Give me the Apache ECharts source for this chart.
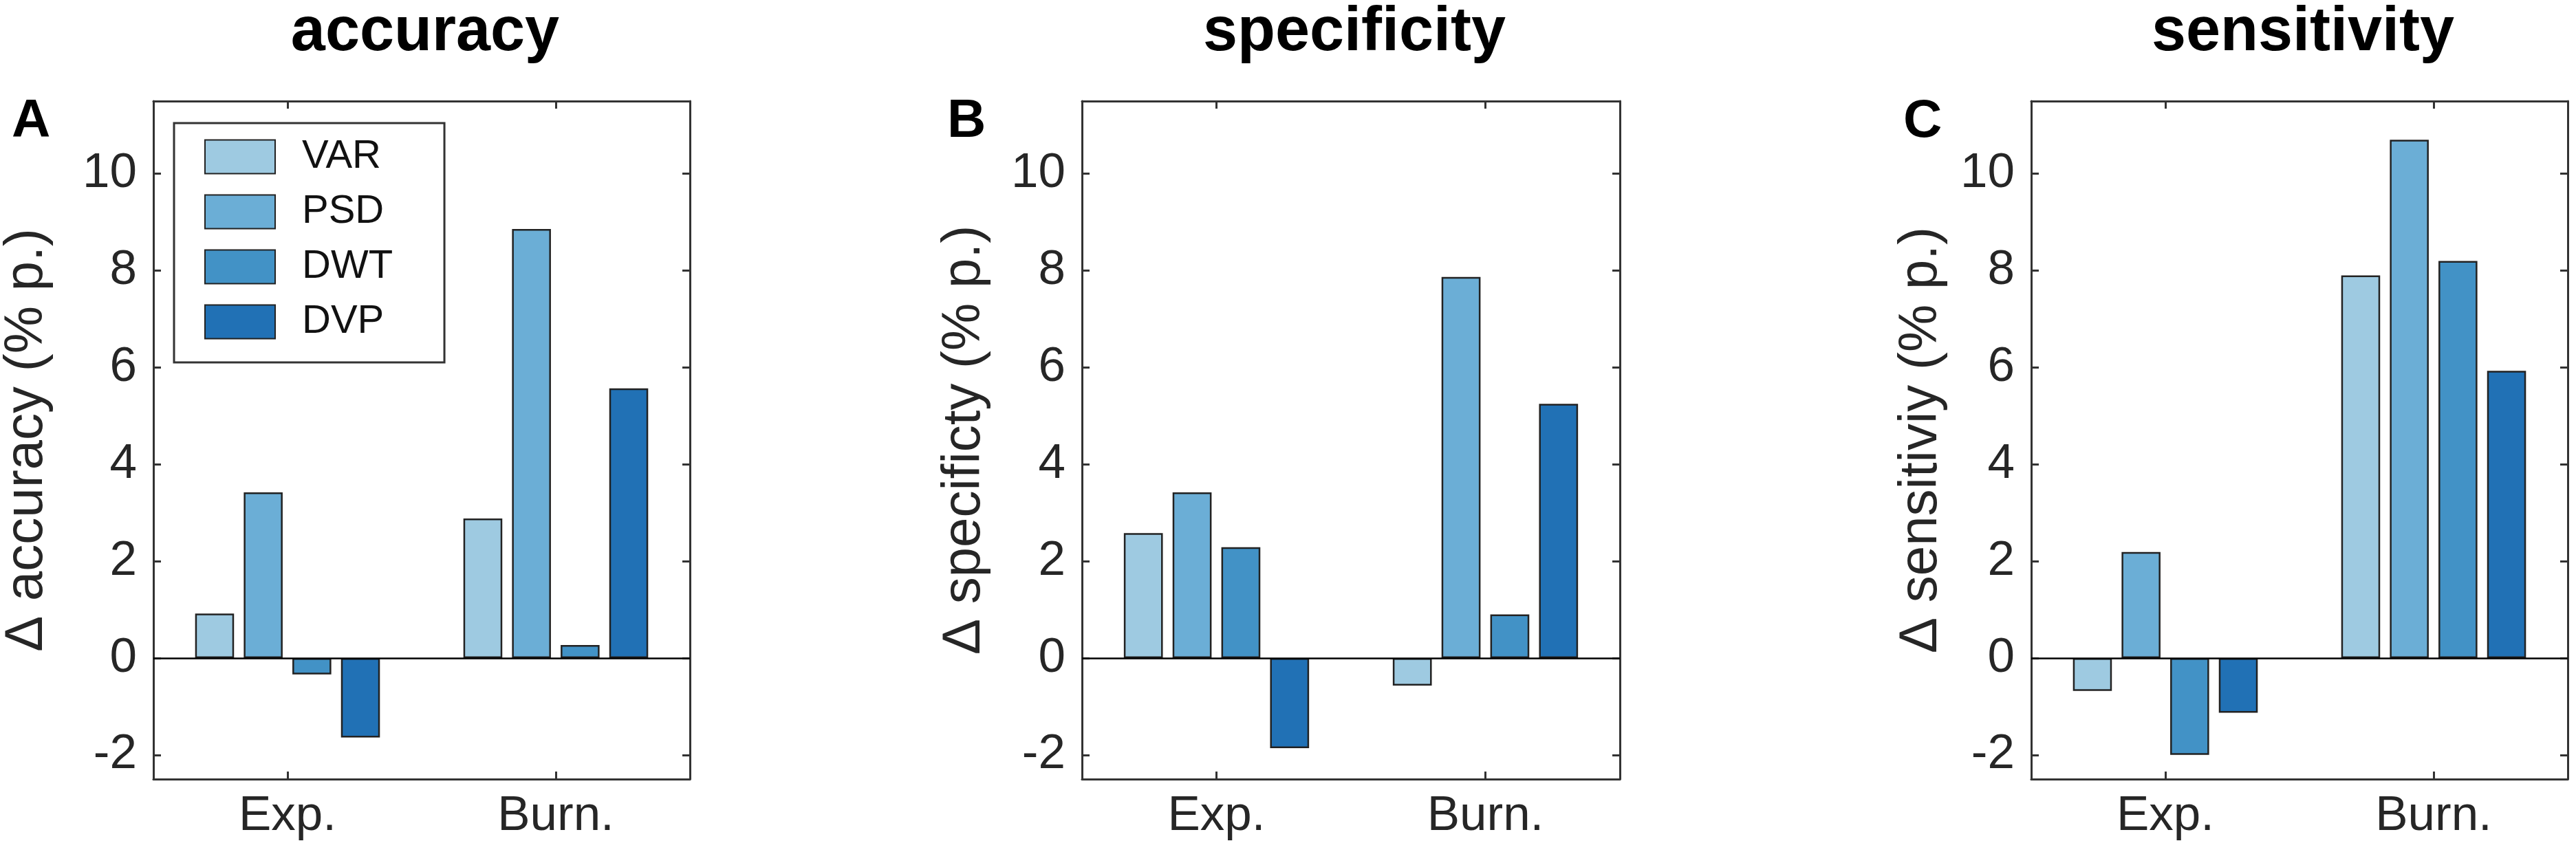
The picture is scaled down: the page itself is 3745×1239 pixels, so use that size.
<!DOCTYPE html>
<html lang="en">
  <head>
    <meta charset="UTF-8" />
    <title>accuracy / specificity / sensitivity</title>
    <script src="https://cdn.jsdelivr.net/npm/echarts@6.0.0/dist/echarts.min.js"></script>
    <style>
      html, body { margin: 0; padding: 0; background: #fff; }
    </style>
  </head>
  <body>
    <div id="main" style="width: 3745px; height: 1239px"></div>
    <script type="text/javascript">
      // data (percentage points)
      const groups = ["Exp.", "Burn."];
      const methods = ["VAR", "PSD", "DWT", "DVP"];
      const panelTitles = ["accuracy", "specificity", "sensitivity"];
      const panelLetters = ["A", "B", "C"];
      const yNames = ["\u0394 accuracy (% p.)", "\u0394 specificty (% p.)", "\u0394 sensitiviy (% p.)"];

      // one row per method: [Exp., Burn.]
      const accuracyVals = [[0.92, 2.88], [3.42, 8.86], [-0.34, 0.27], [-1.64, 5.57]];
      const specificityVals = [[2.58, -0.57], [3.42, 7.87], [2.29, 0.9], [-1.86, 5.25]];
      const sensitivityVals = [[-0.68, 7.9], [2.19, 10.7], [-2.0, 8.2], [-1.13, 5.93]];

      const yMin = -2.5;
      const yMax = 11.5;

      const palette = ["#9ecae1", "#6baed6", "#4292c6", "#2171b5"];
      const font = "'Liberation Sans', Arial, Helvetica, sans-serif";
      const axisColor = "#333";

      const panels = [accuracyVals, specificityVals, sensitivityVals];
      const grids = [
        { left: 223, top: 147, width: 780, height: 986 },
        { left: 1573, top: 147, width: 782, height: 986 },
        { left: 2953, top: 147, width: 780, height: 986 },
      ];
      const nameGaps = [145, 132, 121];
      const letterLeft = [12, 1372, 2762];

      let xAxes = [];
      let yAxes = [];
      let series = [];
      let titles = [];

      grids.forEach((g, i) => {
        const tick = { show: true, inside: true, length: 11, lineStyle: { color: axisColor, width: 3 } };
        const line = { show: true, onZero: false, lineStyle: { color: axisColor, width: 3 } };
        // bottom and top category axes
        xAxes.push({
          type: "category", gridIndex: i, data: groups, position: "bottom",
          axisLine: line,
          axisTick: Object.assign({ alignWithLabel: true, interval: 0 }, tick),
          axisLabel: { fontSize: 71, color: "#262626", margin: 19, fontFamily: font },
          splitLine: { show: false },
        });
        xAxes.push({
          type: "category", gridIndex: i, data: groups, position: "top",
          axisLine: line,
          axisTick: Object.assign({ alignWithLabel: true, interval: 0 }, tick),
          axisLabel: { show: false },
          splitLine: { show: false },
        });
        // left and right value axes
        yAxes.push({
          type: "value", gridIndex: i, position: "left", min: yMin, max: yMax, splitNumber: 7,
          axisLine: line, axisTick: tick,
          axisLabel: {
            fontSize: 71, color: "#262626", margin: 24, fontFamily: font,
            showMinLabel: false, showMaxLabel: false,
            formatter: (v) => (Number.isInteger(v) ? String(v) : ""),
          },
          splitLine: { show: false },
          name: yNames[i], nameLocation: "middle", nameRotate: 90, nameGap: nameGaps[i],
          nameMoveOverlap: false,
          nameTextStyle: { fontSize: 78, color: "#262626", fontFamily: font },
        });
        yAxes.push({
          type: "value", gridIndex: i, position: "right", min: yMin, max: yMax, splitNumber: 7,
          axisLine: line, axisTick: tick,
          axisLabel: { show: false },
          splitLine: { show: false },
        });

        methods.forEach((m, k) => {
          let s = {
            name: m, type: "bar", xAxisIndex: i * 2, yAxisIndex: i * 2,
            data: panels[i][k],
            barWidth: "14.5%", barGap: "25%",
            itemStyle: { color: palette[k], borderColor: "#222", borderWidth: 2.5 },
            emphasis: { disabled: true },
          };
          if (k === 0) {
            s.markLine = {
              silent: true, symbol: ["none", "none"], label: { show: false },
              lineStyle: { color: "#000", width: 2.5, type: "solid" },
              data: [{ yAxis: 0 }],
            };
          }
          series.push(s);
        });

        titles.push({
          text: panelTitles[i], left: g.left + g.width / 2, top: -2, textAlign: "center",
          textStyle: { fontSize: 90, fontWeight: "bold", color: "#000", fontFamily: font },
        });
        titles.push({
          text: panelLetters[i], left: letterLeft[i], top: 133,
          textStyle: { fontSize: 78, fontWeight: "bold", color: "#000", fontFamily: font },
        });
      });

      let options = {
        animation: false,
        backgroundColor: "#fff",
        textStyle: { fontFamily: font },
        title: titles,
        legend: {
          data: methods, orient: "vertical", left: 253, top: 179,
          padding: [20, 75, 30, 44], itemWidth: 102, itemHeight: 49, itemGap: 22,
          icon: "rect", selectedMode: false,
          borderColor: axisColor, borderWidth: 3, backgroundColor: "#fff",
          textStyle: { fontSize: 58, color: "#111", padding: [0, 0, 0, 34], fontFamily: font },
        },
        grid: grids.map((g) => Object.assign({ outerBoundsMode: "none", containLabel: false }, g)),
        xAxis: xAxes,
        yAxis: yAxes,
        series: series,
      };

      let myChart = echarts.init(document.getElementById("main"));
      myChart.setOption(options);
    </script>
  </body>
</html>
